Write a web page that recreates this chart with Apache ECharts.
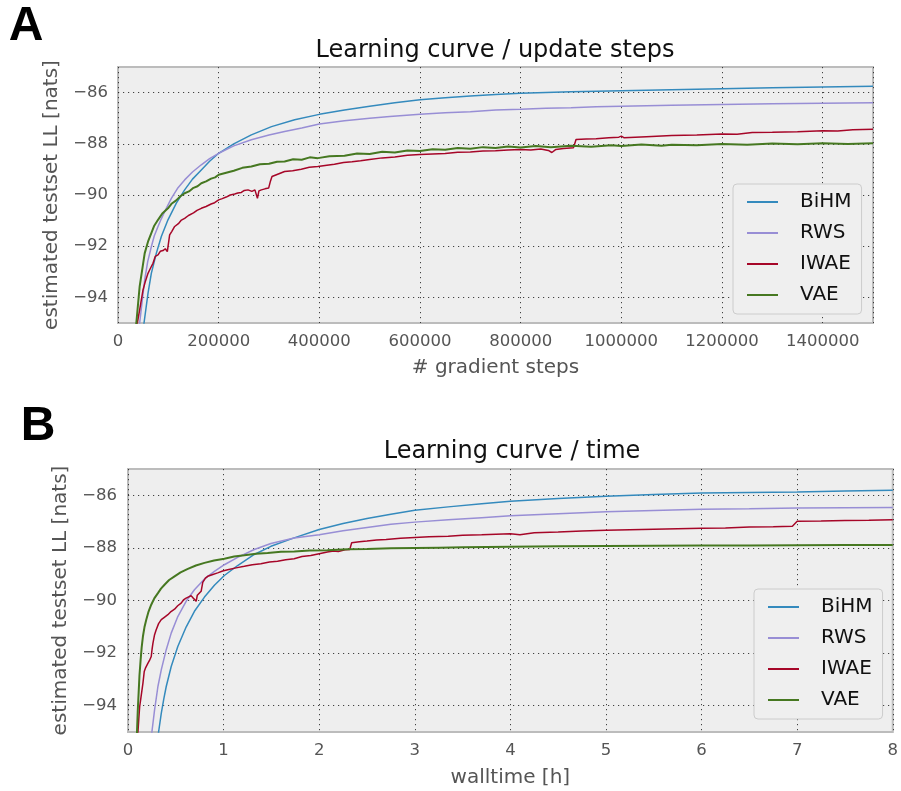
<!DOCTYPE html>
<html>
<head>
<meta charset="utf-8">
<script src="https://cdn.jsdelivr.net/npm/echarts@6/dist/echarts.min.js"></script>
<style>
html,body{margin:0;padding:0;background:#fff;}
#chart{width:901px;height:791px;}
</style>
</head>
<body>
<div id="chart"></div>
<script>
// ---------- DATA ----------
const SERIES_NAMES = ['BiHM', 'RWS', 'IWAE', 'VAE'];
const COLORS = ['#348ABD', '#988ED5', '#A60628', '#467821'];
const Y_TICKS = [-94, -92, -90, -88, -86];

// Panel A: [gradient steps, estimated testset LL]
const BIHM_A = [[45000,-96.2],[51700,-95],[59600,-93.84],[66200,-93.06],[76100,-92.28],[86100,-91.62],[99300,-90.97],[115900,-90.32],[132400,-89.80],[148000,-89.38],[165500,-89.02],[182000,-88.68],[200000,-88.37],[230000,-88.00],[264900,-87.65],[305000,-87.33],[351000,-87.06],[400000,-86.85],[450000,-86.68],[500000,-86.53],[550000,-86.40],[600000,-86.28],[650000,-86.20],[700000,-86.13],[750000,-86.07],[800000,-86.03],[850000,-86.00],[900000,-85.97],[950000,-85.95],[1000000,-85.93],[1100000,-85.89],[1200000,-85.85],[1300000,-85.81],[1400000,-85.78],[1500000,-85.75]];
const RWS_A = [[38000,-96.5],[43000,-95],[53000,-93.32],[59000,-92.60],[66200,-92.02],[72000,-91.60],[79500,-91.23],[86000,-90.93],[92700,-90.65],[106000,-90.13],[118000,-89.75],[132400,-89.41],[148000,-89.10],[165500,-88.82],[182000,-88.58],[200000,-88.37],[230000,-88.08],[264900,-87.84],[300000,-87.66],[331000,-87.52],[365000,-87.38],[400000,-87.23],[450000,-87.10],[500000,-87.00],[540000,-86.93],[600000,-86.85],[650000,-86.79],[700000,-86.75],[750000,-86.68],[800000,-86.65],[850000,-86.61],[900000,-86.59],[950000,-86.55],[1000000,-86.53],[1100000,-86.49],[1200000,-86.46],[1300000,-86.44],[1400000,-86.42],[1500000,-86.40]];
const IWAE_A = [[34000,-96.3],[38400,-95],[43000,-94.49],[49700,-93.71],[54000,-93.40],[59600,-93.06],[64000,-92.88],[69500,-92.67],[74000,-92.40],[79500,-92.34],[84000,-92.20],[89400,-92.17],[94000,-92.10],[98000,-92.21],[102600,-91.56],[107000,-91.42],[112600,-91.23],[120000,-91.12],[126000,-90.98],[132400,-90.91],[140000,-90.80],[150000,-90.70],[157000,-90.60],[165500,-90.52],[175000,-90.45],[185000,-90.35],[192000,-90.30],[200000,-90.19],[207000,-90.14],[215000,-90.08],[223000,-90.00],[231800,-89.96],[238000,-89.92],[245000,-89.90],[251000,-89.82],[258300,-89.80],[266000,-89.86],[272000,-89.80],[274800,-89.83],[277000,-90.13],[280000,-89.84],[284800,-89.80],[292000,-89.76],[299300,-89.73],[303000,-89.45],[306000,-89.28],[316000,-89.20],[331000,-89.08],[347000,-89.05],[364100,-88.99],[380000,-88.92],[397000,-88.89],[415000,-88.84],[430000,-88.80],[448000,-88.73],[465000,-88.70],[482000,-88.66],[500000,-88.61],[525000,-88.55],[550000,-88.52],[575000,-88.45],[600000,-88.42],[625000,-88.40],[650000,-88.38],[675000,-88.33],[700000,-88.32],[725000,-88.28],[750000,-88.27],[775000,-88.24],[800000,-88.22],[820000,-88.24],[840000,-88.20],[855000,-88.26],[862000,-88.34],[870000,-88.22],[885000,-88.18],[905000,-88.15],[910000,-87.83],[930000,-87.81],[950000,-87.80],[975000,-87.76],[995000,-87.74],[1000000,-87.70],[1005000,-87.76],[1050000,-87.72],[1100000,-87.68],[1150000,-87.66],[1200000,-87.62],[1230000,-87.63],[1260000,-87.56],[1300000,-87.55],[1350000,-87.53],[1400000,-87.49],[1430000,-87.50],[1460000,-87.45],[1500000,-87.43]];
const VAE_A = [[32000,-96.5],[36400,-95],[43000,-93.58],[53000,-92.28],[60000,-91.80],[66200,-91.49],[72000,-91.20],[79500,-90.97],[88000,-90.72],[99300,-90.52],[107000,-90.33],[115000,-90.22],[124000,-90.05],[132400,-89.93],[141000,-89.86],[150000,-89.72],[158000,-89.66],[165500,-89.54],[175000,-89.47],[185000,-89.36],[193000,-89.31],[200000,-89.21],[215000,-89.13],[230000,-89.05],[247000,-88.94],[264900,-88.89],[282000,-88.80],[300000,-88.78],[316000,-88.70],[331000,-88.69],[348000,-88.60],[365000,-88.62],[381000,-88.53],[397000,-88.56],[420000,-88.49],[450000,-88.47],[475000,-88.38],[500000,-88.40],[525000,-88.31],[550000,-88.34],[575000,-88.26],[600000,-88.28],[625000,-88.21],[650000,-88.23],[675000,-88.16],[700000,-88.19],[725000,-88.13],[750000,-88.16],[775000,-88.11],[800000,-88.14],[830000,-88.09],[860000,-88.13],[900000,-88.08],[940000,-88.12],[980000,-88.06],[1000000,-88.09],[1040000,-88.03],[1080000,-88.08],[1100000,-88.04],[1150000,-88.06],[1200000,-88.01],[1250000,-88.04],[1300000,-87.99],[1350000,-88.02],[1400000,-87.98],[1450000,-88.01],[1500000,-87.98]];

// Panel B: [walltime in hours, estimated testset LL]
const BIHM_B = [[0.30,-95.6],[0.320,-95],[0.348,-94.29],[0.375,-93.73],[0.400,-93.27],[0.452,-92.51],[0.521,-91.75],[0.608,-91.01],[0.695,-90.41],[0.80,-89.87],[0.904,-89.42],[1.008,-89.05],[1.147,-88.67],[1.321,-88.25],[1.495,-87.94],[1.738,-87.62],[2.0,-87.30],[2.25,-87.07],[2.5,-86.88],[2.75,-86.72],[3.0,-86.57],[3.35,-86.44],[3.7,-86.32],[4.0,-86.23],[4.5,-86.12],[5.0,-86.04],[5.5,-85.97],[6.0,-85.91],[6.5,-85.89],[7.0,-85.87],[7.5,-85.84],[8.0,-85.81]];
const RWS_B = [[0.235,-95.8],[0.250,-95],[0.278,-94.16],[0.313,-93.27],[0.348,-92.64],[0.400,-91.87],[0.452,-91.24],[0.521,-90.61],[0.608,-90.03],[0.695,-89.59],[0.80,-89.18],[0.904,-88.89],[1.008,-88.64],[1.147,-88.36],[1.321,-88.06],[1.495,-87.83],[1.738,-87.62],[2.0,-87.50],[2.25,-87.35],[2.5,-87.22],[2.75,-87.10],[3.0,-87.02],[3.35,-86.93],[3.7,-86.85],[4.0,-86.78],[4.5,-86.70],[5.0,-86.63],[5.5,-86.58],[6.0,-86.53],[6.5,-86.51],[7.0,-86.48],[7.5,-86.47],[8.0,-86.46]];
const IWAE_B = [[0.095,-95.8],[0.104,-95],[0.113,-94.5],[0.122,-94.04],[0.135,-93.70],[0.156,-93.15],[0.170,-92.70],[0.185,-92.55],[0.209,-92.38],[0.225,-92.28],[0.243,-92.13],[0.252,-91.85],[0.261,-91.62],[0.278,-91.30],[0.295,-91.11],[0.32,-90.88],[0.348,-90.73],[0.38,-90.64],[0.417,-90.54],[0.45,-90.42],[0.487,-90.33],[0.52,-90.20],[0.556,-90.10],[0.58,-89.98],[0.608,-89.91],[0.635,-89.86],[0.660,-89.82],[0.68,-89.90],[0.695,-89.87],[0.713,-90.03],[0.725,-89.80],[0.737,-89.78],[0.765,-89.65],[0.782,-89.31],[0.81,-89.15],[0.834,-89.08],[0.88,-89.02],[0.938,-88.95],[0.99,-88.88],[1.043,-88.83],[1.13,-88.76],[1.217,-88.70],[1.30,-88.64],[1.39,-88.60],[1.48,-88.54],[1.564,-88.51],[1.65,-88.45],[1.738,-88.41],[1.82,-88.33],[1.912,-88.29],[2.0,-88.22],[2.085,-88.16],[2.15,-88.12],[2.2,-88.14],[2.27,-88.07],[2.32,-88.06],[2.34,-87.80],[2.42,-87.77],[2.5,-87.74],[2.6,-87.70],[2.7,-87.68],[2.85,-87.63],[3.0,-87.60],[3.15,-87.58],[3.35,-87.56],[3.5,-87.52],[3.7,-87.50],[3.85,-87.48],[4.0,-87.46],[4.1,-87.50],[4.25,-87.42],[4.5,-87.40],[4.75,-87.36],[5.0,-87.33],[5.25,-87.31],[5.5,-87.29],[5.75,-87.27],[6.0,-87.25],[6.25,-87.24],[6.5,-87.21],[6.75,-87.20],[6.95,-87.18],[7.0,-86.99],[7.25,-86.98],[7.5,-86.96],[7.75,-86.95],[8.0,-86.93]];
const VAE_B = [[0.085,-96.5],[0.094,-95],[0.102,-94.2],[0.111,-93.53],[0.120,-92.85],[0.132,-92.26],[0.143,-91.78],[0.156,-91.37],[0.172,-91.02],[0.191,-90.73],[0.215,-90.42],[0.243,-90.16],[0.275,-89.92],[0.313,-89.72],[0.345,-89.55],[0.382,-89.40],[0.43,-89.22],[0.487,-89.08],[0.55,-88.93],[0.626,-88.80],[0.71,-88.67],[0.80,-88.57],[0.90,-88.48],[1.008,-88.41],[1.11,-88.33],[1.217,-88.28],[1.34,-88.22],[1.46,-88.19],[1.6,-88.15],[1.74,-88.14],[1.9,-88.10],[2.085,-88.09],[2.3,-88.05],[2.5,-88.04],[2.75,-88.01],[3.0,-88.00],[3.25,-87.99],[3.5,-87.98],[3.75,-87.97],[4.0,-87.96],[4.5,-87.94],[5.0,-87.93],[5.5,-87.92],[6.0,-87.91],[6.5,-87.91],[7.0,-87.90],[7.5,-87.89],[8.0,-87.89]];

// ---------- CHART ----------
const FONT = 'DejaVu Sans';
const gridLine = {show:true, lineStyle:{color:'#222', width:1, type:[1.2,3.8], opacity:0.85}};
const tickLabel = {color:'#555', fontSize:16.5, fontFamily:FONT};
const minusFmt = v => (v < 0 ? '\u2212' : '') + Math.abs(v);

function xAxisCfg(grid, min, max, interval, name, margin, nameGap) {
  return {
    gridIndex:grid, type:'value', min:min, max:max, interval:interval,
    axisLine:{show:false}, axisTick:{show:false},
    axisLabel:Object.assign({margin:margin, showMaxLabel:interval===200000?false:true, formatter:v=>String(v)}, tickLabel),
    splitLine:gridLine,
    name:name, nameLocation:'middle', nameGap:nameGap,
    nameTextStyle:{fontSize:20, color:'#555', fontFamily:FONT}
  };
}
function yAxisCfg(grid, margin, nameGap) {
  return {
    gridIndex:grid, type:'value', min:-95, max:-85,
    axisLine:{show:false},
    axisTick:{show:false, customValues:Y_TICKS},
    axisLabel:Object.assign({margin:margin, customValues:Y_TICKS, formatter:minusFmt}, tickLabel),
    splitLine:gridLine,
    name:'estimated testset LL [nats]', nameLocation:'middle', nameGap:nameGap, nameRotate:90,
    nameTextStyle:{fontSize:20, color:'#555', fontFamily:FONT}
  };
}
function legendCfg(left, top) {
  return {
    orient:'vertical', left:left, top:top, data:SERIES_NAMES,
    icon:'rect', itemWidth:31, itemHeight:2, itemGap:9,
    padding:[7,10,8,14],
    backgroundColor:'#efefef', borderColor:'#cccccc', borderWidth:1, borderRadius:4,
    textStyle:{fontSize:20, color:'#111', fontFamily:FONT, lineHeight:22, padding:[0,0,0,17]}
  };
}
const dataA = [BIHM_A, RWS_A, IWAE_A, VAE_A];
const dataB = [BIHM_B, RWS_B, IWAE_B, VAE_B];
const series = [];
[dataA, dataB].forEach((set, gi) => {
  set.forEach((d, i) => {
    series.push({
      type:'line', name:SERIES_NAMES[i], xAxisIndex:gi, yAxisIndex:gi,
      data:d, showSymbol:false, symbol:'none', clip:true,
      color:COLORS[i],
      lineStyle:{color:COLORS[i], width: i===3 ? 2 : 1.5},
      z: 2 + i
    });
  });
});

const chart = echarts.init(document.getElementById('chart'), null, {renderer:'canvas'});
chart.setOption({
  animation:false,
  backgroundColor:'#ffffff',
  textStyle:{fontFamily:FONT},
  grid:[
    {left:118, top:67, width:755, height:256, show:true, backgroundColor:'#eeeeee', borderColor:'#bcbcbc', borderWidth:2},
    {left:128, top:469, width:768, height:263, show:true, backgroundColor:'#eeeeee', borderColor:'#bcbcbc', borderWidth:2}
  ],
  xAxis:[
    xAxisCfg(0, 0, 1500000, 200000, '# gradient steps', 10, 35),
    xAxisCfg(1, 0, 8, 1, 'walltime [h]', 10, 36)
  ],
  yAxis:[
    yAxisCfg(0, 10, 50),
    yAxisCfg(1, 11, 50)
  ],
  legend:[legendCfg(733,184), legendCfg(754,589)],
  graphic:[
    {type:'text', x:495, y:51, style:{text:'Learning curve / update steps', fontSize:24, fontFamily:FONT, fill:'#111', align:'center', verticalAlign:'middle'}},
    {type:'text', x:512, y:452, style:{text:'Learning curve / time', fontSize:24, fontFamily:FONT, fill:'#111', align:'center', verticalAlign:'middle'}},
    {type:'text', x:26, y:27, style:{text:'A', fontSize:48, fontWeight:'bold', fontFamily:'Liberation Sans', fill:'#000', align:'center', verticalAlign:'middle'}},
    {type:'text', x:38, y:427, style:{text:'B', fontSize:48, fontWeight:'bold', fontFamily:'Liberation Sans', fill:'#000', align:'center', verticalAlign:'middle'}}
  ],
  series:series
});
</script>
</body>
</html>
